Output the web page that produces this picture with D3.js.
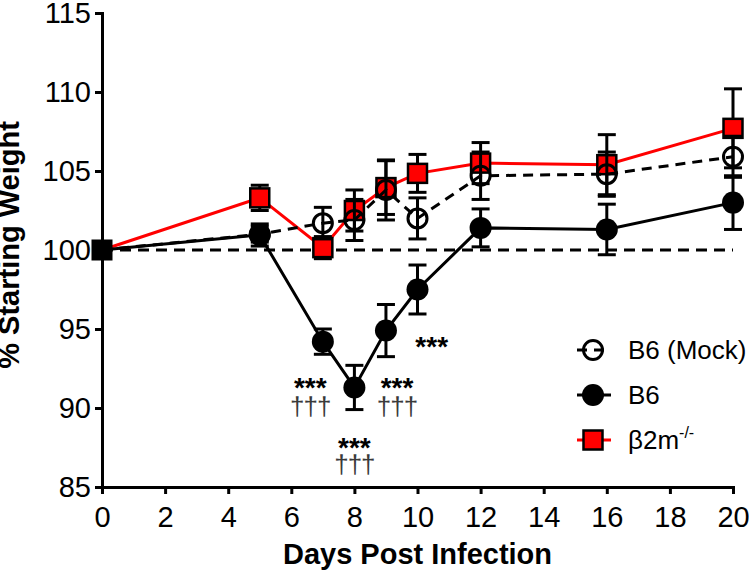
<!DOCTYPE html>
<html><head><meta charset="utf-8">
<script src="https://cdn.jsdelivr.net/npm/d3@7"></script>
<style>
html,body{margin:0;padding:0;background:#fff;}
svg{display:block;font-family:"Liberation Sans",Arial,Helvetica,sans-serif;}
</style></head>
<body>
<script>
// ---- data ----
const days = [0, 5, 7, 8, 9, 10, 12, 16, 20];
const mockMean = [100, 101.0, 101.7, 101.9, 103.8, 102.0, 104.7, 104.8, 105.9];
const mockErr  = [0, 0.5, 1.0, 1.3, 1.9, 1.3, 1.5, 1.4, 1.3];
const b6Mean   = [100, 100.95, 94.2, 91.3, 94.9, 97.5, 101.4, 101.3, 103.0];
const b6Err    = [0, 0.7, 0.8, 1.4, 1.65, 1.55, 1.2, 1.6, 1.7];
const b2mMean  = [100, 103.3, 100.15, 102.5, 103.95, 104.85, 105.5, 105.4, 107.7];
const b2mErr   = [0, 0.8, 0.7, 1.3, 1.7, 1.2, 1.3, 1.9, 2.5];
const baseDays = [0, 20];
const baseVals = [100, 100];
const xTicks = [0, 2, 4, 6, 8, 10, 12, 14, 16, 18, 20];
const yTicks = [85, 90, 95, 100, 105, 110, 115];
const starDays = [6.6, 8, 9.35, 10.45];
const starLevels = [91.6, 87.8, 91.6, 94.2];
const daggerDays = [6.6, 8, 9.35];
const daggerLevels = [90.0, 86.3, 90.0];
const legendLabels = ["B6 (Mock)", "B6", "β2m"];

// ---- layout ----
const W = 749, H = 576;
const svg = d3.select("body").append("svg").attr("width", W).attr("height", H);
const x = d3.scaleLinear().domain([0, 20]).range([102, 733]);
const y = d3.scaleLinear().domain([85, 115]).range([487, 13]);

// axes
const fontAxis = 29;
const gx = svg.append("g").attr("transform", `translate(0,${y(85)})`)
  .call(d3.axisBottom(x).tickValues(xTicks).tickSize(7).tickSizeOuter(0).tickPadding(12).tickFormat(d3.format("d")));
const gy = svg.append("g").attr("transform", `translate(${x(0)},0)`)
  .call(d3.axisLeft(y).tickValues(yTicks).tickSize(7).tickSizeOuter(0).tickPadding(4).tickFormat(d3.format("d")));
[gx, gy].forEach(g => {
  g.select(".domain").attr("stroke", "#000").attr("stroke-width", 3).attr("stroke-linecap", "square");
  g.selectAll(".tick line").attr("stroke", "#000").attr("stroke-width", 3);
  g.selectAll(".tick text").attr("fill", "#000").style("font-size", fontAxis + "px")
    .style("font-family", '"Liberation Sans",Arial,sans-serif');
});

svg.append("text").attr("x", (x(0) + x(20)) / 2).attr("y", 564)
  .attr("text-anchor", "middle").style("font-size", "29px").style("font-weight", "bold")
  .text("Days Post Infection");
svg.append("text").attr("transform", "translate(19,245) rotate(-90)")
  .attr("text-anchor", "middle").style("font-size", "29px").style("font-weight", "bold")
  .text("% Starting Weight");

// baseline dashed
const line = d3.line().x(d => x(d[0])).y(d => y(d[1]));
svg.append("path").datum(baseDays.map((d, i) => [d, baseVals[i]]))
  .attr("d", line).attr("fill", "none").attr("stroke", "#000")
  .attr("stroke-width", 3).attr("stroke-dasharray", "11,7");

function series(mean, err, opts) {
  const pts = days.map((d, i) => ({d, v: mean[i], e: err[i]}));
  const g = svg.append("g");
  g.append("path").datum(pts.map(p => [p.d, p.v])).attr("d", line)
    .attr("fill", "none").attr("stroke", opts.line).attr("stroke-width", 3)
    .attr("stroke-dasharray", opts.dash || null);
  const eb = g.selectAll(".eb").data(pts.filter(p => p.e > 0)).enter().append("g")
    .attr("stroke", "#000").attr("stroke-width", 3);
  eb.append("line").attr("x1", p => x(p.d)).attr("x2", p => x(p.d))
    .attr("y1", p => y(p.v + p.e)).attr("y2", p => y(p.v - p.e));
  eb.append("line").attr("x1", p => x(p.d) - 9).attr("x2", p => x(p.d) + 9)
    .attr("y1", p => y(p.v + p.e)).attr("y2", p => y(p.v + p.e));
  eb.append("line").attr("x1", p => x(p.d) - 9).attr("x2", p => x(p.d) + 9)
    .attr("y1", p => y(p.v - p.e)).attr("y2", p => y(p.v - p.e));
  const mk = pts.filter(p => p.d > 0);
  if (opts.marker === "square") {
    g.selectAll(".m").data(mk).enter().append("rect")
      .attr("x", p => x(p.d) - 9.5).attr("y", p => y(p.v) - 9.5)
      .attr("width", 19).attr("height", 19)
      .attr("fill", opts.fill).attr("stroke", "#000").attr("stroke-width", 2.5);
  } else {
    g.selectAll(".m").data(mk).enter().append("circle")
      .attr("cx", p => x(p.d)).attr("cy", p => y(p.v))
      .attr("r", opts.fill === "none" ? 9.5 : 11)
      .attr("fill", opts.fill).attr("stroke", opts.fill === "none" ? "#000" : "none")
      .attr("stroke-width", 3);
  }
}
series(b2mMean, b2mErr, {line: "#ff0000", marker: "square", fill: "#ff0000"});
series(mockMean, mockErr, {line: "#000", dash: "10,7", marker: "circle", fill: "none"});
series(b6Mean, b6Err, {line: "#000", marker: "circle", fill: "#000"});

// day 0 marker
svg.append("rect").attr("x", x(baseDays[0]) - 10.5).attr("y", y(baseVals[0]) - 10.5)
  .attr("width", 21).attr("height", 21).attr("fill", "#000");

// annotations
starDays.forEach((d, i) => {
  svg.append("text").attr("x", x(d)).attr("y", y(starLevels[i]) + 14)
    .attr("text-anchor", "middle").style("font-size", "28px").style("font-weight", "bold")
    .text("***");
});
daggerDays.forEach((d, i) => {
  svg.append("text").attr("x", x(d)).attr("y", y(daggerLevels[i]) + 7)
    .attr("text-anchor", "middle").style("font-size", "26px").style("letter-spacing", "-1px")
    .attr("fill", "#3a3a3a").style("text-rendering", "geometricPrecision")
    .text("†††");
});

// legend
const lg = svg.append("g");
const ly = [350, 395, 440];
const lx0 = 577, lx1 = 611, lc = 593;
lg.append("line").attr("x1", lx0).attr("x2", lx1).attr("y1", ly[0]).attr("y2", ly[0])
  .attr("stroke", "#000").attr("stroke-width", 3).attr("stroke-dasharray", "10,7");
lg.append("circle").attr("cx", lc).attr("cy", ly[0]).attr("r", 9.5)
  .attr("fill", "none").attr("stroke", "#000").attr("stroke-width", 3);
lg.append("line").attr("x1", lx0).attr("x2", lx1).attr("y1", ly[1]).attr("y2", ly[1])
  .attr("stroke", "#000").attr("stroke-width", 3);
lg.append("circle").attr("cx", lc).attr("cy", ly[1]).attr("r", 11).attr("fill", "#000");
lg.append("line").attr("x1", lx0).attr("x2", lx1).attr("y1", ly[2]).attr("y2", ly[2])
  .attr("stroke", "#ff0000").attr("stroke-width", 3);
lg.append("rect").attr("x", lc - 9.5).attr("y", ly[2] - 9.5).attr("width", 19).attr("height", 19)
  .attr("fill", "#ff0000").attr("stroke", "#000").attr("stroke-width", 2.5);
legendLabels.forEach((t, i) => {
  const tx = lg.append("text").attr("x", 628).attr("y", ly[i] + 9).style("font-size", "26px").text(t);
  if (i === 2) tx.append("tspan").attr("dy", -11).style("font-size", "16px").text("-/-");
});
</script>
</body></html>
